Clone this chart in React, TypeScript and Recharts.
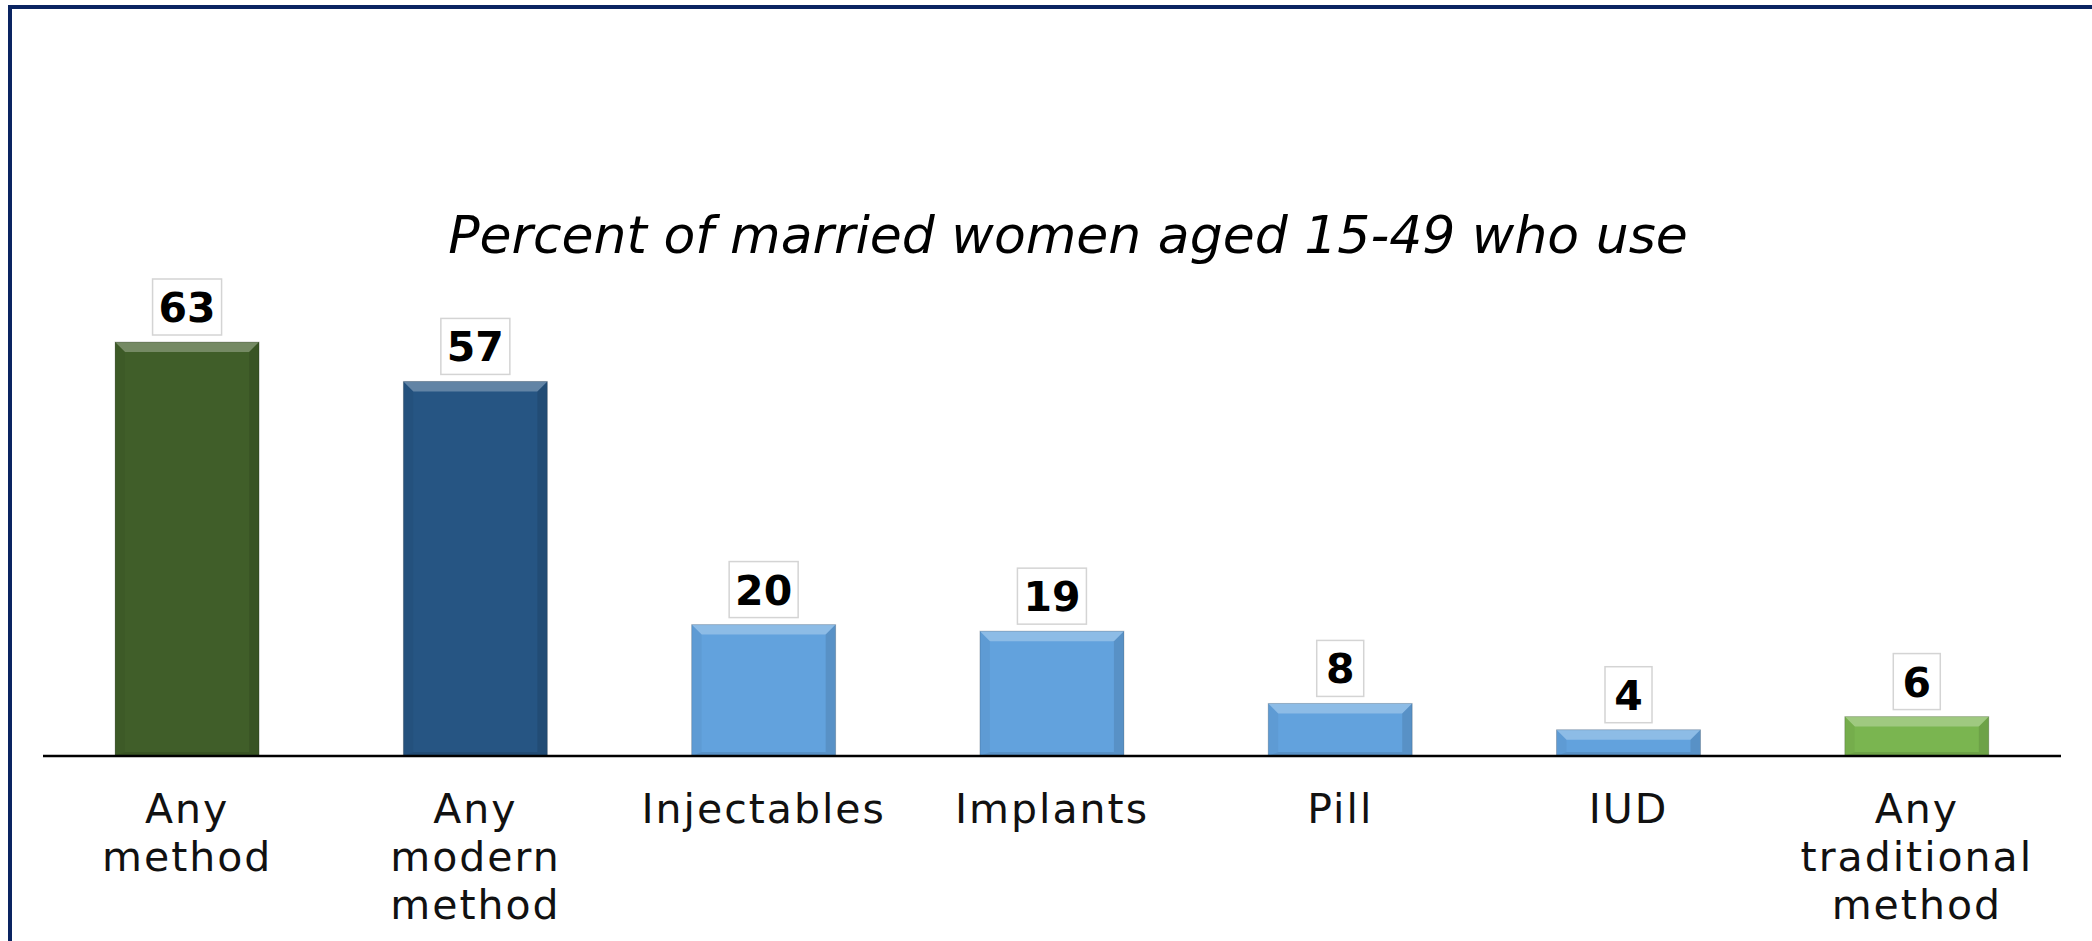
import { BarChart, Bar, XAxis, YAxis, Cell, LabelList } from "recharts";

// categories and values
const CATEGORIES = [
  "Any method",
  "Any modern method",
  "Injectables",
  "Implants",
  "Pill",
  "IUD",
  "Any traditional method",
];
const PERCENT = [63, 57, 20, 19, 8, 4, 6];
// how each tick label is broken into lines
const TICK_LINES = [
  ["Any", "method"],
  ["Any", "modern", "method"],
  ["Injectables"],
  ["Implants"],
  ["Pill"],
  ["IUD"],
  ["Any", "traditional", "method"],
];
const BAR_COLORS = [
  "#405e29",
  "#265583",
  "#62a2dd",
  "#62a2dd",
  "#62a2dd",
  "#62a2dd",
  "#7ab550",
];

const TITLE = "Percent of married women aged 15-49 who use";
const FONT = "'DejaVu Sans', Verdana, sans-serif";

const data = CATEGORIES.map((name, i) => ({ name, value: PERCENT[i] }));

// bar with a soft bevel, like the office chart style
function BevelBar(props: any) {
  const rx = Number(props.x);
  const ry = Number(props.y);
  const rw = Number(props.width);
  const rh = Number(props.height);
  const x = Math.min(rx, rx + rw);
  const y = Math.min(ry, ry + rh);
  const w = Math.abs(rw);
  const h = Math.abs(rh);
  const fill = BAR_COLORS[props.index] || props.fill || "#62a2dd";
  if (!(h > 0) || !(w > 0)) return <g />;
  const b = Math.min(10, h / 2, w / 2);
  const bb = Math.min(4, h / 4);
  return (
    <g>
      <rect x={x} y={y} width={w} height={h} fill={fill} />
      <polygon
        points={`${x},${y} ${x + w},${y} ${x + w - b},${y + b} ${x + b},${y + b}`}
        fill="#ffffff"
        fillOpacity={0.28}
      />
      <polygon
        points={`${x},${y} ${x + b},${y + b} ${x + b},${y + h - bb} ${x},${y + h}`}
        fill="#000000"
        fillOpacity={0.04}
      />
      <polygon
        points={`${x + w},${y} ${x + w - b},${y + b} ${x + w - b},${y + h - bb} ${x + w},${y + h}`}
        fill="#000000"
        fillOpacity={0.1}
      />
      <polygon
        points={`${x},${y + h} ${x + b},${y + h - bb} ${x + w - b},${y + h - bb} ${x + w},${y + h}`}
        fill="#000000"
        fillOpacity={0.1}
      />
      <rect
        x={x}
        y={y}
        width={w}
        height={h}
        fill="none"
        stroke="#000000"
        strokeOpacity={0.18}
        strokeWidth={1}
      />
    </g>
  );
}

function ValueBox(props: any) {
  const { x, y, width, height, value } = props;
  const txt = String(value);
  const bw = txt.length * 22 + 25;
  const bh = 56;
  const cx = Number(x) + Number(width) / 2;
  const barTop = Math.min(Number(y), Number(y) + Number(height || 0));
  const top = barTop - 7 - bh;
  return (
    <g>
      <rect
        x={cx - bw / 2}
        y={top}
        width={bw}
        height={bh}
        fill="#ffffff"
        stroke="#d4d4d4"
        strokeWidth={1.5}
      />
      <text
        x={cx}
        y={top + bh / 2 + 15}
        textAnchor="middle"
        fontFamily={FONT}
        fontWeight="bold"
        fontSize={41}
        fill="#000"
      >
        {txt}
      </text>
    </g>
  );
}

function CategoryTick(props: any) {
  const { x, y, payload } = props;
  const lines = TICK_LINES[payload.index] || [payload.value];
  return (
    <text
      x={x}
      y={y}
      textAnchor="middle"
      fontFamily={FONT}
      fontSize={41}
      fill="#111"
      letterSpacing={2}
    >
      {lines.map((ln: string, i: number) => (
        <tspan key={i} x={x} y={y + 67 + i * 48}>
          {ln}
        </tspan>
      ))}
    </text>
  );
}

export default function App() {
  return (
    <div
      style={{
        position: "absolute",
        left: 0,
        top: 0,
        width: 2092,
        height: 941,
        background: "#fff",
        overflow: "hidden",
      }}
    >
      {/* frame, only left and top edges visible */}
      <div
        style={{
          position: "absolute",
          left: 8,
          top: 5,
          width: 2300,
          height: 1200,
          borderLeft: "4px solid #0a2461",
          borderTop: "4px solid #0a2461",
          boxSizing: "border-box",
        }}
      />
      <div
        style={{
          position: "absolute",
          left: 22,
          top: 209,
          width: 2092,
          textAlign: "center",
          fontFamily: FONT,
          fontStyle: "italic",
          fontWeight: 300,
          fontSize: 52,
          lineHeight: "52px",
          color: "#000",
          whiteSpace: "nowrap",
        }}
      >
        {TITLE}
      </div>
      <div style={{ position: "absolute", left: 0, top: 0 }}>
        <BarChart
          width={2092}
          height={941}
          data={data}
          margin={{ top: 296, right: 31, bottom: 0, left: 43 }}
          barCategoryGap="25%"
        >
          <XAxis
            dataKey="name"
            height={185}
            interval={0}
            tickLine={false}
            tickSize={0}
            tickMargin={0}
            axisLine={{ stroke: "#000", strokeWidth: 2.5 }}
            tick={(p: any) => <CategoryTick {...p} />}
          />
          <YAxis hide width={0} domain={[0, 70]} />
          <Bar
            dataKey="value"
            isAnimationActive={false}
            shape={(p: any) => <BevelBar {...p} />}
          >
            {data.map((_, i) => (
              <Cell key={i} fill={BAR_COLORS[i]} />
            ))}
            <LabelList dataKey="value" content={(p: any) => <ValueBox {...p} />} />
          </Bar>
        </BarChart>
      </div>
    </div>
  );
}
